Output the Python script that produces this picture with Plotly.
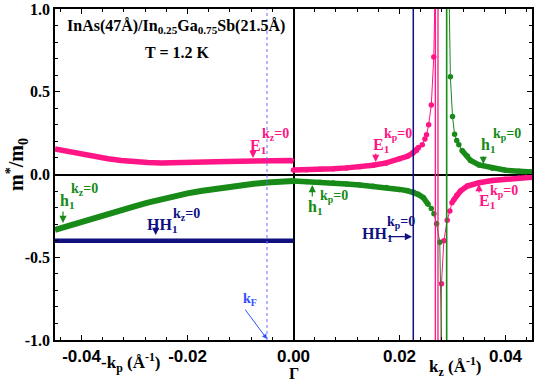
import numpy as np
import plotly.graph_objects as go

# ---------------- data ----------------
# left half: x = -k_p  (k_z = 0)
kp_left = [0.045, 0.0425, 0.04, 0.0375, 0.035, 0.0325, 0.03, 0.0275, 0.025, 0.0225,
           0.02, 0.0175, 0.015, 0.0125, 0.01, 0.0075, 0.005, 0.0025, 0.0005, 0.0]
E1_kz0 = [0.155, 0.138, 0.122, 0.108, 0.095, 0.085, 0.077, 0.072, 0.070, 0.070,
          0.071, 0.073, 0.075, 0.078, 0.080, 0.082, 0.084, 0.085, 0.085, 0.078]
h1_kz0 = [-0.335, -0.31, -0.285, -0.262, -0.238, -0.215, -0.192, -0.17, -0.15, -0.131,
          -0.114, -0.10, -0.087, -0.075, -0.065, -0.056, -0.048, -0.043, -0.041, -0.040]
HH1_kz0 = [-0.40, -0.40, -0.40, -0.40, -0.40, -0.40, -0.40, -0.40, -0.40, -0.40,
           -0.40, -0.40, -0.40, -0.40, -0.40, -0.40, -0.40, -0.40, -0.40, -0.40]

# right half: x = k_z  (k_p = 0)
kz_E1_low = [0.0, 0.0025, 0.005, 0.0075, 0.01, 0.0125, 0.015, 0.0175, 0.02, 0.0215,
             0.0225, 0.0232, 0.0236, 0.0243, 0.0248, 0.0251, 0.0255, 0.0260, 0.02647, 0.0270]
E1_kp0_low = [0.027, 0.028, 0.031, 0.035, 0.040, 0.047, 0.056, 0.070, 0.095, 0.110,
              0.130, 0.145, 0.163, 0.180, 0.215, 0.240, 0.300, 0.420, 0.710, 1.600]

kz_E1_high = [0.0277, 0.02792, 0.02837, 0.0290, 0.0295, 0.0299, 0.0302, 0.0308, 0.0315,
              0.0328, 0.035, 0.0375, 0.04, 0.0425, 0.045]
E1_kp0_high = [-1.5, -0.66, -0.40, -0.277, -0.22, -0.17, -0.155, -0.125, -0.10,
               -0.07, -0.05, -0.036, -0.028, -0.022, -0.017]

kz_h1_low = [0.0, 0.0025, 0.005, 0.0075, 0.01, 0.0125, 0.015, 0.0175, 0.02, 0.0215,
             0.0226, 0.0235, 0.0245, 0.0254, 0.0260, 0.0265, 0.0270, 0.0276, 0.0282]
h1_kp0_low = [-0.040, -0.043, -0.047, -0.052, -0.058, -0.064, -0.071, -0.079, -0.090, -0.098,
              -0.106, -0.120, -0.140, -0.180, -0.205, -0.237, -0.297, -0.410, -1.500]

kz_h1_high = [0.0291, 0.0296, 0.0300, 0.0304, 0.0308, 0.0312, 0.0318, 0.0328, 0.0334,
              0.035, 0.0375, 0.04, 0.0425, 0.045]
h1_kp0_high = [1.6, 0.59, 0.35, 0.243, 0.205, 0.18, 0.145, 0.112, 0.085,
               0.058, 0.038, 0.026, 0.020, 0.015]

# vertical reference lines
k_F = -0.005
HH1_kp0_line = 0.0226
E1_asym = [0.02676, 0.02726]
h1_asym = [0.0289]

x_ticks = [-0.04, -0.02, 0.0, 0.02, 0.04]
x_ticktext = ["-0.04", "-0.02", "0.00", "0.02", "0.04"]
y_ticks = [1.0, 0.5, 0.0, -0.5, -1.0]
y_ticktext = ["1.0", "0.5", "0.0", "-0.5", "-1.0"]

# ---------------- styling ----------------
PINK = "#FF1585"
GREEN = "#178A17"
NAVY = "#10107F"
BLUE = "#3050FF"
SERIF = "Liberation Serif, Times New Roman, serif"
SANS = "Liberation Sans, Arial, sans-serif"

W, H = 536, 381
ML, MR, MT, MB = 55, 4, 9, 41


def P(px, py):
    return (px - ML) / (W - ML - MR), (H - MB - py) / (H - MT - MB)


fig = go.Figure()


def band(x, y, color, width=5.5):
    fig.add_trace(go.Scatter(x=x, y=y, mode="lines", line=dict(color=color, width=width),
                             hoverinfo="skip"))


def dotted(x, y, color):
    fig.add_trace(go.Scatter(x=x, y=y, mode="lines+markers",
                             line=dict(color=color, width=1),
                             marker=dict(color=color, size=5.5), hoverinfo="skip"))


# left half
xl = -np.array(kp_left)
band(xl, E1_kz0, PINK)
band(xl, h1_kz0, GREEN, 6)
band(xl, HH1_kz0, NAVY, 4.5)

# right half: sparse dotted parts + dense bands
for kx, my, col, lim in [(kz_E1_low, E1_kp0_low, PINK, 0.165),
                         (kz_E1_high, E1_kp0_high, PINK, 0.16),
                         (kz_h1_low, h1_kp0_low, GREEN, 0.185),
                         (kz_h1_high, h1_kp0_high, GREEN, 0.15)]:
    kx = np.array(kx)
    my = np.array(my)
    dotted(kx, my, col)
    m = np.abs(my) <= lim
    band(kx[m], my[m], col)

shapes = []
shapes.append(dict(type="line", xref="x", yref="paper", x0=k_F, x1=k_F, y0=0, y1=1,
                   line=dict(color="#6A6AFF", width=1, dash="dot")))
shapes.append(dict(type="line", xref="x", yref="paper", x0=HH1_kp0_line, x1=HH1_kp0_line,
                   y0=0, y1=1, line=dict(color=NAVY, width=1.5)))
for v in E1_asym:
    shapes.append(dict(type="line", xref="x", yref="paper", x0=v, x1=v, y0=0, y1=1,
                       line=dict(color=PINK, width=1.3)))
for v in h1_asym:
    shapes.append(dict(type="line", xref="x", yref="paper", x0=v, x1=v, y0=0, y1=1,
                       line=dict(color=GREEN, width=1.6)))

ann = []


def text(px, py, s, color="black", size=14, xanchor="left", family=SERIF, angle=0):
    x, y = P(px, py)
    ann.append(dict(xref="paper", yref="paper", x=x, y=y, text=s, showarrow=False,
                    xanchor=xanchor, yanchor="middle", textangle=angle,
                    font=dict(family=family, size=size, color=color, weight="bold")))


def arrow(hx, hy, tx, ty, color, width=1.2, size=1.2):
    x, y = P(hx, hy)
    ann.append(dict(xref="paper", yref="paper", x=x, y=y, ax=tx - hx, ay=ty - hy,
                    text="", showarrow=True, arrowhead=2, arrowsize=size,
                    arrowwidth=width, arrowcolor=color))


def label(px, py, main, sup, spx, spy, color):
    text(px, py, main, color, 16)
    text(spx, spy, sup, color, 14)


# title
text(176, 26, "InAs(47Å)/In<sub>0.25</sub>Ga<sub>0.75</sub>Sb(21.5Å)", size=16, xanchor="center")
text(177, 52, "T = 1.2 K", size=16, xanchor="center")

# curve labels
label(248, 146, "E<sub>1</sub>", "k<sub>z</sub>=0", 260, 134, PINK)
arrow(253, 158, 253, 148, PINK)
label(58, 202, "h<sub>1</sub>", "k<sub>z</sub>=0", 69, 189, GREEN)
arrow(63, 223, 63, 210, GREEN)
label(145, 225, "HH<sub>1</sub>", "k<sub>z</sub>=0", 171, 214, NAVY)
arrow(155.7, 235, 155.7, 227, NAVY)
label(371, 145, "E<sub>1</sub>", "k<sub>p</sub>=0", 382, 134, PINK)
arrow(375.7, 162, 375.7, 152, PINK)
label(479, 145, "h<sub>1</sub>", "k<sub>p</sub>=0", 491, 134, GREEN)
arrow(483.3, 164, 483.3, 155, GREEN)
label(306, 207, "h<sub>1</sub>", "k<sub>p</sub>=0", 318, 196, GREEN)
arrow(312.3, 185, 312.3, 198, GREEN)
label(360, 234, "HH<sub>1</sub>", "k<sub>p</sub>=0", 385, 223, NAVY)
arrow(412, 236.7, 387, 236.7, NAVY)
label(477, 202, "E<sub>1</sub>", "k<sub>p</sub>=0", 488, 192, PINK)
arrow(479, 184, 479, 194, PINK)
# Fermi wave vector
text(241, 299, "k<sub>F</sub>", BLUE, 14)
arrow(267, 339, 244, 308, BLUE, 1, 1)

# axis labels
text(17, 165, "m<sup>*</sup>/m<sub>0</sub>", size=20, xanchor="center", angle=-90)
text(131, 362, "-k<sub>p</sub> (Å<sup>-1</sup>)", size=17, xanchor="center")
text(294, 373, "Γ", size=16, xanchor="center")
text(455, 366, "k<sub>z</sub> (Å<sup>-1</sup>)", size=17, xanchor="center")

fig.update_layout(
    width=W, height=H, margin=dict(l=ML, r=MR, t=MT, b=MB, autoexpand=False),
    paper_bgcolor="white", plot_bgcolor="white", showlegend=False,
    shapes=shapes, annotations=ann,
    xaxis=dict(range=[-0.045, 0.045], tickvals=x_ticks, ticktext=x_ticktext,
               automargin=False,
               showgrid=False, zeroline=True, zerolinecolor="black", zerolinewidth=1.5,
               showline=True, linecolor="black", linewidth=1.5, mirror="allticks",
               ticks="inside", ticklen=5, tickwidth=1.2, tickcolor="black",
               minor=dict(dtick=0.004, tick0=0, ticks="inside", ticklen=3, tickwidth=1,
                          tickcolor="black", showgrid=False),
               tickfont=dict(family=SANS, size=17, color="black", weight="bold")),
    yaxis=dict(range=[-1, 1], tickvals=y_ticks, ticktext=y_ticktext,
               automargin=False,
               showgrid=False, zeroline=True, zerolinecolor="black", zerolinewidth=1.5,
               showline=True, linecolor="black", linewidth=1.5, mirror="allticks",
               ticks="inside", ticklen=5, tickwidth=1.2, tickcolor="black",
               minor=dict(dtick=0.1, tick0=0, ticks="inside", ticklen=3, tickwidth=1,
                          tickcolor="black", showgrid=False),
               tickfont=dict(family=SERIF, size=16, color="black", weight="bold")),
)

fig.write_html("out.html", config={"displayModeBar": False},
               post_script="document.body.style.margin='0px';")
